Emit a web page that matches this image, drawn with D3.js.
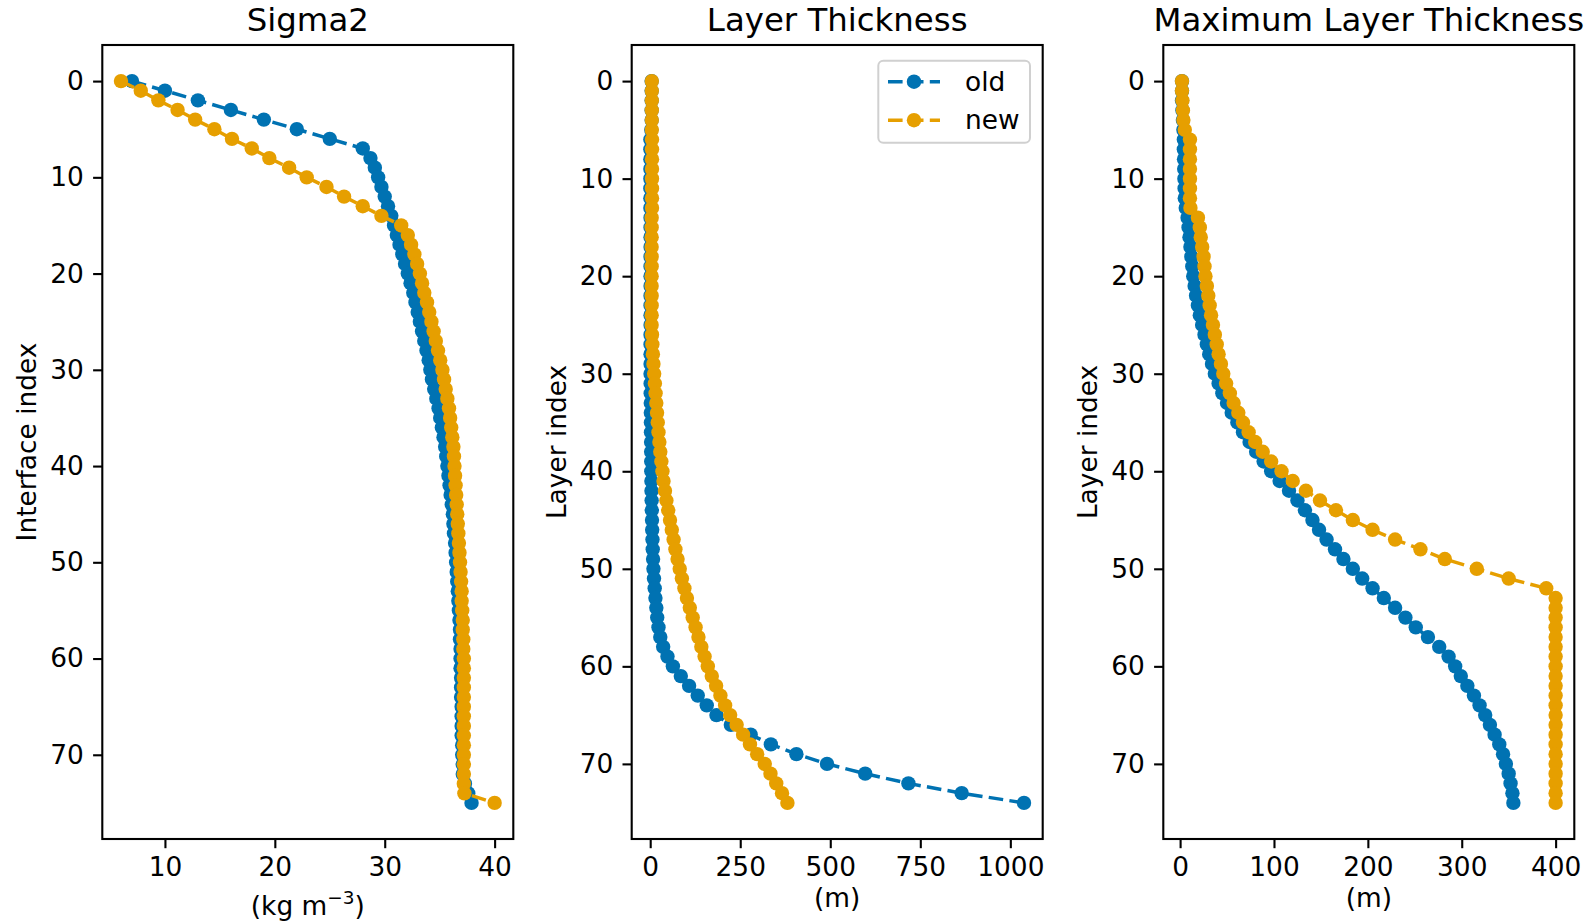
<!DOCTYPE html>
<html>
<head>
<meta charset="utf-8">
<script src="https://cdn.jsdelivr.net/npm/d3@7"></script>
<style>
  body { margin: 0; background: #fff; }
  svg text { font-family: "DejaVu Sans", sans-serif; fill: #000; }
</style>
</head>
<body>
<script>
// sigma2 at each interface (0..75)
var sigmaOld = [7.0, 10.0, 13.0, 16.0, 19.0, 22.0, 25.0, 28.0, 28.7, 29.1,
    29.4, 29.7, 30.0, 30.3, 30.6, 30.85, 31.1, 31.35, 31.6, 31.85,
    32.1, 32.35, 32.6, 32.8, 33.0, 33.2, 33.4, 33.6, 33.8, 34.0,
    34.15, 34.3, 34.5, 34.7, 34.9, 35.05, 35.2, 35.35, 35.5, 35.6,
    35.7, 35.8, 35.9, 36.0, 36.1, 36.2, 36.25, 36.3, 36.4, 36.45,
    36.5, 36.55, 36.6, 36.65, 36.7, 36.75, 36.8, 36.85, 36.85, 36.9,
    36.9, 36.9, 36.95, 36.95, 36.95, 37.0, 37.0, 37.0, 37.0, 37.05,
    37.05, 37.1, 37.1, 37.3, 37.6, 37.9];
var sigmaNew = [6.0, 7.8, 9.4, 11.15, 12.75, 14.5, 16.1, 17.9, 19.5, 21.3,
    22.9, 24.7, 26.3, 28.0, 29.7, 31.5, 32.1, 32.4, 32.7, 32.95,
    33.2, 33.4, 33.6, 33.85, 34.05, 34.25, 34.45, 34.65, 34.85, 35.05,
    35.25, 35.4, 35.55, 35.7, 35.85, 35.95, 36.05, 36.15, 36.25, 36.3,
    36.35, 36.4, 36.45, 36.5, 36.55, 36.6, 36.65, 36.7, 36.75, 36.8,
    36.85, 36.9, 36.95, 37.0, 37.0, 37.05, 37.1, 37.1, 37.15, 37.15,
    37.2, 37.2, 37.2, 37.2, 37.2, 37.2, 37.2, 37.2, 37.2, 37.2,
    37.2, 37.2, 37.2, 37.2, 37.25, 40.0];

// layer thickness (m), layers 0..74
var thickOld = [4, 4, 4, 4, 4, 3, 0.5, 0.5, 0.5, 0.5,
    0.5, 0.5, 0.5, 0.5, 1, 1, 1, 1, 1, 1,
    1, 1, 1, 1, 1, 1, 1, 1, 1, 1,
    1, 1.2, 1.4, 1.6, 1.8, 2, 2.2, 2.4, 2.6, 2.8,
    3, 3.3, 3.6, 4, 4.5, 5, 5.5, 6.3, 7, 8,
    9, 10.5, 12.5, 14.5, 17, 19.5, 23, 28, 36, 48,
    63, 85, 108, 132, 157, 184, 224, 279, 335, 406,
    491, 597, 717, 865, 1038];
var thickNew = [4.5, 4.5, 4.5, 4.5, 4.5, 4.5, 5, 5, 5, 5,
    5, 5, 5, 5, 4, 4, 4, 4, 4, 4,
    4, 4, 4, 4, 4, 4, 5, 6, 7.5, 9,
    11, 13, 15, 17, 19, 21, 23, 25.5, 28, 31,
    34, 37, 41, 45, 50, 55, 60, 65, 70, 76,
    82, 88, 95, 102, 110, 118, 126, 134, 142, 151,
    160, 171, 183, 195, 208, 222, 240, 258, 277, 297,
    318, 334, 350, 366, 381];

// maximum layer thickness (m), layers 0..74
var maxThickOld = [2, 2, 2, 2.5, 3, 3.5, 4, 4, 4.2, 4.4,
    4.6, 4.8, 5, 6, 8, 9, 10, 11, 12, 13,
    14, 15.5, 17, 19, 21, 23.5, 26, 28.5, 31, 34,
    37, 41, 45, 50, 55, 61, 67, 74, 81, 89,
    97, 106, 116, 125, 133, 141, 148, 156, 165, 174,
    184, 194, 205, 217, 229, 240, 251, 264, 276, 286,
    293, 299, 306, 313, 319, 325, 330, 335, 340, 344,
    347, 350, 352, 354, 355];
var maxThickNew = [2, 2, 2.5, 3, 3.5, 5, 10.5, 10.5, 10.5, 10.5,
    10.5, 10.5, 10.5, 11, 19, 21, 22, 23.5, 25, 26,
    27, 28.5, 30, 31.5, 33, 35, 37, 39, 41, 43.5,
    46, 49, 53, 57, 62, 67, 73, 80, 88, 97,
    108, 120, 134, 149, 166, 184, 205, 229, 256, 282,
    316, 350, 390, 400, 400, 400, 400, 400, 400, 400,
    400, 400, 400, 400, 400, 400, 400, 400, 400, 400,
    400, 400, 400, 400, 400];

var yTicks = [0, 10, 20, 30, 40, 50, 60, 70];
var sigmaTicks = [10, 20, 30, 40];
var thickTicks = [0, 250, 500, 750, 1000];
var maxThickTicks = [0, 100, 200, 300, 400];
var seriesNames = ["old", "new"];
var seriesColors = ["#0072B2", "#E69F00"];

var W = 1595, H = 923;
var TOP = 45, BOTTOM = 839, PANEL_W = 411;
var FONT = 26.4, TITLE_FONT = 32.4;
var TICK_LEN = 9.2, TICK_PAD = 9.2;
var MARKER_R = 7.2, LINE_W = 3.5;

var panels = [
    { left: 102.3, title: "Sigma2", ylabel: "Interface index", xlabel: "kg",
      series: [sigmaOld, sigmaNew], xticks: sigmaTicks, legend: false },
    { left: 631.7, title: "Layer Thickness", ylabel: "Layer index", xlabel: "(m)",
      series: [thickOld, thickNew], xticks: thickTicks, legend: true },
    { left: 1163.3, title: "Maximum Layer Thickness", ylabel: "Layer index", xlabel: "(m)",
      series: [maxThickOld, maxThickNew], xticks: maxThickTicks, legend: false }
];

var svg = d3.select("body").append("svg")
    .attr("width", W)
    .attr("height", H);

// matplotlib style 5% margins around the data
function padded(lo, hi) {
    var s = hi - lo;
    return [lo - 0.05 * s, hi + 0.05 * s];
}

panels.forEach(function(p) {
    var all = p.series[0].concat(p.series[1]);
    var n = p.series[0].length;
    var x = d3.scaleLinear().domain(padded(d3.min(all), d3.max(all)))
        .range([p.left, p.left + PANEL_W]);
    var y = d3.scaleLinear().domain(padded(0, n - 1)).range([TOP, BOTTOM]);

    var g = svg.append("g");

    // series: dashed line then markers, old first so new sits on top
    p.series.forEach(function(vals, si) {
        var pts = vals.map(function(v, i) { return [v, i]; });
        var sg = g.append("g");
        sg.append("path")
            .datum(pts)
            .attr("fill", "none")
            .attr("stroke", seriesColors[si])
            .attr("stroke-width", LINE_W)
            .attr("stroke-dasharray", "14.6,6.3")
            .attr("d", d3.line()
                .x(function(d) { return x(d[0]); })
                .y(function(d) { return y(d[1]); }));
        sg.selectAll("circle")
            .data(pts)
            .enter().append("circle")
            .attr("cx", function(d) { return x(d[0]); })
            .attr("cy", function(d) { return y(d[1]); })
            .attr("r", MARKER_R)
            .attr("fill", seriesColors[si]);
    });

    // axes
    var xAxis = g.append("g")
        .attr("transform", "translate(0," + BOTTOM + ")")
        .call(d3.axisBottom(x).tickValues(p.xticks).tickFormat(d3.format("d"))
            .tickSize(TICK_LEN).tickPadding(TICK_PAD).tickSizeOuter(0));
    var yAxis = g.append("g")
        .attr("transform", "translate(" + p.left + ",0)")
        .call(d3.axisLeft(y).tickValues(yTicks).tickFormat(d3.format("d"))
            .tickSize(TICK_LEN).tickPadding(TICK_PAD).tickSizeOuter(0));
    [xAxis, yAxis].forEach(function(a) {
        a.select(".domain").remove();
        a.selectAll(".tick line").attr("stroke", "#000").attr("stroke-width", 2.1);
        a.selectAll(".tick text")
            .style("font-size", FONT + "px")
            .style("font-family", "DejaVu Sans");
    });

    // spines
    g.append("rect")
        .attr("x", p.left)
        .attr("y", TOP)
        .attr("width", PANEL_W)
        .attr("height", BOTTOM - TOP)
        .attr("fill", "none")
        .attr("stroke", "#000")
        .attr("stroke-width", 2.1);

    // title
    g.append("text")
        .attr("x", p.left + PANEL_W / 2)
        .attr("y", 31)
        .attr("text-anchor", "middle")
        .style("font-size", TITLE_FONT + "px")
        .text(p.title);

    // y label
    var lx = p.left - 66, ly = (TOP + BOTTOM) / 2;
    g.append("text")
        .attr("transform", "translate(" + lx + "," + ly + ") rotate(-90)")
        .attr("text-anchor", "middle")
        .style("font-size", FONT + "px")
        .text(p.ylabel);

    // x label
    var xl = g.append("text")
        .attr("x", p.left + PANEL_W / 2)
        .attr("text-anchor", "middle")
        .style("font-size", FONT + "px");
    if (p.xlabel === "kg") {
        xl.attr("y", 915);
        xl.append("tspan").text("(kg m");
        xl.append("tspan")
            .attr("dy", -11)
            .style("font-size", (FONT * 0.7) + "px")
            .text("\u22123");
        xl.append("tspan").attr("dy", 11).text(")");
    } else {
        xl.attr("y", 907).text(p.xlabel);
    }

    // legend
    if (p.legend) {
        var lg = g.append("g");
        lg.append("rect")
            .attr("x", 878.3)
            .attr("y", 60.7)
            .attr("width", 151.7)
            .attr("height", 82)
            .attr("rx", 5)
            .attr("fill", "#fff")
            .attr("fill-opacity", 0.8)
            .attr("stroke", "#d0d0d0")
            .attr("stroke-width", 2);
        seriesNames.forEach(function(name, si) {
            var cy = 81.7 + si * 38.5;
            lg.append("line")
                .attr("x1", 888).attr("x2", 940)
                .attr("y1", cy).attr("y2", cy)
                .attr("stroke", seriesColors[si])
                .attr("stroke-width", LINE_W)
                .attr("stroke-dasharray", "14.6,6.3");
            lg.append("circle")
                .attr("cx", 914).attr("cy", cy)
                .attr("r", MARKER_R)
                .attr("fill", seriesColors[si]);
            lg.append("text")
                .attr("x", 965)
                .attr("y", cy + 9)
                .style("font-size", FONT + "px")
                .text(name);
        });
    }
});
</script>
</body>
</html>
